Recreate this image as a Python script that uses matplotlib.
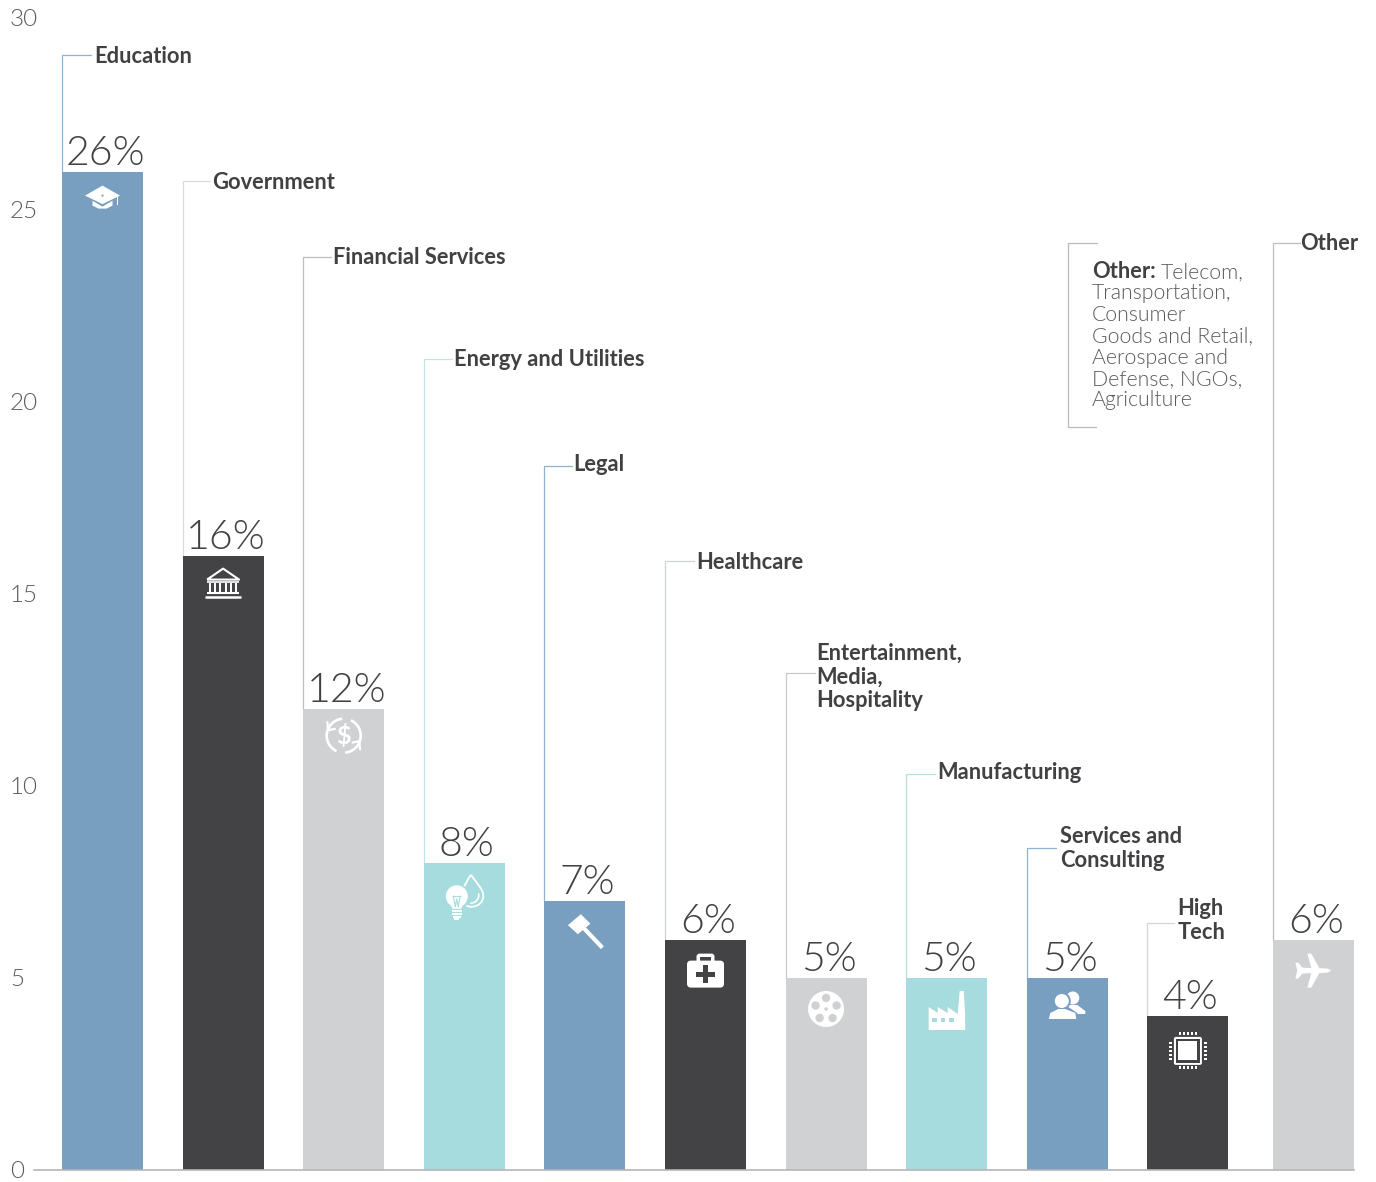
import matplotlib
matplotlib.use("Agg")
import matplotlib.pyplot as plt
from matplotlib.patches import Circle, Polygon, Rectangle, FancyBboxPatch, Arc, PathPatch
from matplotlib.path import Path
from matplotlib.transforms import Affine2D

W, H = 1376, 1182

categories = ["Education", "Government", "Financial Services", "Energy and Utilities", "Legal",
              "Healthcare", "Entertainment,\nMedia,\nHospitality", "Manufacturing",
              "Services and\nConsulting", "High\nTech", "Other"]
shares = [26, 16, 12, 8, 7, 6, 5, 5, 5, 4, 6]
slots = [0, 1, 2, 3, 4, 5, 6, 7, 8, 9, 10.04]
leader_tops = [29.04, 25.76, 23.78, 21.13, 18.33, 15.86, 12.94, 10.31, 8.39, 6.43, 24.14]
y_ticks = [0, 5, 10, 15, 20, 25, 30]
note_lines = ["Other:", "Transportation,", "Consumer", "Goods and Retail,",
              "Aerospace and", "Defense, NGOs,", "Agriculture"]

BLUE, DARK, GREY, TEAL = "#789ec0", "#434245", "#d0d1d3", "#a6dcde"
bar_colors = [BLUE, DARK, GREY, TEAL, BLUE, DARK, GREY, TEAL, BLUE, DARK, GREY]
line_colors = ["#8fb3d3", "#dcdcdc", "#bcbdbf", "#bfe4e6", "#8fb3d3", "#cfd2d6",
               "#c8c9cb", "#b5dfe2", "#8fb3d3", "#d6d6d6", "#bcbdbf"]
label_dx = [32, 30, 30, 30, 29, 31, 31, 31, 33, 30, 27]
leader_len = [29, 27, 28, 28, 28, 29, 29, 29, 29, 27, 27]
label_dy = [2, 2, 1, 1, -2, 2, 4, -2, 1, -2.5, 0]

TEXT = "#414042"
SOFT = "#58595b"
WHITE = "white"

plt.rcParams["font.family"] = ["Lato", "DejaVu Sans"]

fig = plt.figure(figsize=(W / 100, H / 100), dpi=100)
ax = fig.add_axes([34 / W, 1 - 1170 / H, 1320 / W, 1152 / H])

unit = 120.6
ax.set_xlim((34 - 102.5) / unit, (1354 - 102.5) / unit)
ax.set_ylim(0, 30)

bar_w = 81 / unit
ax.bar(slots, shares, width=bar_w, color=bar_colors, zorder=3)

for sp in ["top", "left", "right"]:
    ax.spines[sp].set_visible(False)
ax.spines["bottom"].set_color("#b5b5b7")
ax.spines["bottom"].set_linewidth(1.2)
ax.spines["bottom"].set_zorder(4)
ax.set_xticks([])
ax.set_yticks(y_ticks)
ax.tick_params(axis="y", length=0, pad=17.3, labelsize=17.5, labelcolor=SOFT)
for t in ax.get_yticklabels():
    t.set_horizontalalignment("left")
    t.set_fontweight(300)


# icons are drawn in pixels from the top centre of their bar, y pointing down
def add_shape(shape, tr, color, **kw):
    shape.set(transform=tr, facecolor=color, edgecolor="none", zorder=5, clip_on=False, **kw)
    ax.add_patch(shape)


def add_stroke(xs, ys, tr, color=WHITE, lw=1.4):
    ax.plot(xs, ys, transform=tr, color=color, lw=lw, zorder=5, clip_on=False,
            solid_capstyle="butt", scalex=False, scaley=False)


def icon_cap(tr, bg):
    add_shape(Polygon([(-10, 27), (-10, 34), (-4, 37), (4, 37), (10, 34), (10, 27)]), tr, WHITE)
    add_shape(Polygon([(-12, 28), (0, 35), (12, 28), (12, 24), (-12, 24)]), tr, bg)
    add_shape(Polygon([(0, 14), (17.5, 24), (0, 32.5), (-17.5, 24)]), tr, WHITE)
    add_shape(Rectangle((14.5, 25), 1.5, 8), tr, WHITE)
    add_shape(Circle((0, 24), 1.1), tr, bg)


def icon_bank(tr, bg):
    add_stroke([-16, 0, 16, -16], [24, 13, 24, 24], tr, lw=1.5)
    for cx in [-13, -8, -3, 3, 8, 13]:
        add_stroke([cx, cx], [27, 36], tr, lw=1.4)
    add_stroke([-16, 16], [26.5, 26.5], tr, lw=1.2)
    add_stroke([-16, 16], [37.5, 37.5], tr, lw=1.5)
    add_stroke([-18, 18], [41.5, 41.5], tr, lw=1.8)


def icon_money(tr, bg):
    c = (0, 26.5)
    ax.add_patch(Arc(c, 34, 34, theta1=115, theta2=265, transform=tr, color=WHITE, lw=1.9,
                     zorder=5, clip_on=False))
    ax.add_patch(Arc(c, 34, 34, theta1=-65, theta2=85, transform=tr, color=WHITE, lw=1.9,
                     zorder=5, clip_on=False))
    add_stroke([-16.5, -15.5, -8], [12, 21, 19.5], tr, lw=1.6)
    add_stroke([16.5, 15.5, 8], [41, 32, 33.5], tr, lw=1.6)
    ax.text(0, 27, "$", transform=tr, color=WHITE, fontsize=18, fontweight="bold",
            ha="center", va="center", zorder=5)


def icon_energy(tr, bg):
    drop = Path([(6.5, 12), (14, 22), (19, 27), (19, 33), (19, 40), (13, 44), (7, 44),
                 (2, 44), (-1, 41), (-3, 36), (-3, 30), (0, 22), (6.5, 12)],
                [Path.MOVETO] + [Path.CURVE4] * 12)
    ax.add_patch(PathPatch(drop, transform=tr, facecolor="none", edgecolor=WHITE, lw=1.3,
                           zorder=5, clip_on=False))
    ax.add_patch(Arc((6, 32), 17, 17, theta1=350, theta2=90, transform=tr, color=WHITE, lw=1.2,
                     zorder=5, clip_on=False))
    add_shape(Circle((-7.5, 34), 13), tr, bg)
    add_shape(Circle((-7.5, 33.5), 11), tr, WHITE)
    add_shape(Polygon([(-14, 40), (-1, 40), (-3, 46), (-12, 46)]), tr, WHITE)
    add_stroke([-11, -9, -7.5, -6, -4], [33, 44, 36, 44, 33], tr, color=bg, lw=0.8)
    add_stroke([-12, -3], [33, 33], tr, color=bg, lw=0.8)
    for ly, half in [(48, 5), (51, 5), (54, 4), (56, 2.5)]:
        add_stroke([-7.5 - half, -7.5 + half], [ly, ly], tr, lw=1.5)


def icon_gavel(tr, bg):
    add_shape(Polygon([(-4, 13), (5.5, 22.5), (-7, 33), (-17, 24)]), tr, WHITE)
    add_stroke([-3, 17.5], [25, 46.5], tr, lw=3)


def icon_medkit(tr, bg):
    add_shape(FancyBboxPatch((-9, 14), 18, 12, boxstyle="round,pad=0,rounding_size=3"), tr, WHITE)
    add_shape(Rectangle((-5.5, 17), 11, 5), tr, bg)
    add_shape(FancyBboxPatch((-18.5, 21), 37, 27, boxstyle="round,pad=0,rounding_size=4"), tr, WHITE)
    add_shape(Rectangle((-9.5, 32.5), 19, 4.5), tr, bg)
    add_shape(Rectangle((-2.5, 25.5), 5, 18), tr, bg)


def icon_reel(tr, bg):
    add_shape(Circle((0, 31), 18), tr, WHITE)
    for hx, hy in [(0, 20), (-10.5, 27.5), (10.5, 27.5), (-6.5, 40), (6.5, 40)]:
        add_shape(Circle((hx, hy), 4.2), tr, bg)
    add_shape(Circle((0, 31), 1.8), tr, bg)


def icon_factory(tr, bg):
    add_shape(Polygon([(-18, 52), (-18, 29), (-9, 35), (-9, 29), (1, 35), (1, 29), (11, 36),
                       (13, 13), (17, 13), (18.5, 36), (18.5, 52)]), tr, WHITE)
    for wx in [-14.5, -6, 2.5]:
        add_shape(Rectangle((wx, 40), 4.5, 3.5), tr, bg)


def icon_people(tr, bg):
    add_shape(Circle((5.5, 20), 6.5), tr, WHITE)
    add_shape(Polygon([(0, 27), (10, 27), (18, 33), (18, 36), (0, 36)]), tr, WHITE)
    add_shape(Circle((-5.5, 23), 9), tr, bg)
    add_shape(Polygon([(-19, 41), (-18, 34), (-9, 29), (1, 29), (10, 35), (10.5, 41)]), tr, bg)
    add_shape(Circle((-5.5, 23), 7), tr, WHITE)
    add_shape(Polygon([(-18.5, 41), (-17, 35), (-9, 31), (-2, 31), (8, 35), (9, 41)]), tr, WHITE)


def icon_chip(tr, bg):
    cy = 34.5
    add_shape(FancyBboxPatch((-14, cy - 14), 28, 28, boxstyle="round,pad=0,rounding_size=2"), tr, WHITE)
    add_shape(Rectangle((-12, cy - 12), 24, 24), tr, bg)
    add_shape(Rectangle((-9.5, cy - 9.5), 19, 19), tr, WHITE)
    for p in [-8, -4, 0, 4, 8]:
        add_shape(Rectangle((p - 1, cy - 18.5), 2, 3), tr, WHITE)
        add_shape(Rectangle((p - 1, cy + 15.5), 2, 3), tr, WHITE)
        add_shape(Rectangle((-19, cy + p - 1), 3, 2), tr, WHITE)
        add_shape(Rectangle((16, cy + p - 1), 3, 2), tr, WHITE)


def icon_plane(tr, bg):
    add_shape(Polygon([(18, 31), (14, 29), (6, 28.5), (-2, 14), (-6, 14), (-2, 28.5), (-11, 28),
                       (-15, 23), (-18, 23), (-16, 31), (-18, 39), (-15, 39), (-11, 34),
                       (-2, 33.5), (-6, 48), (-2, 48), (6, 33.5), (14, 33)]), tr, WHITE)


icons = [icon_cap, icon_bank, icon_money, icon_energy, icon_gavel, icon_medkit,
         icon_reel, icon_factory, icon_people, icon_chip, icon_plane]

for i, v in enumerate(shares):
    left = slots[i] - bar_w / 2
    top = leader_tops[i]
    lc = line_colors[i]
    ax.plot([left, left, left + leader_len[i] / unit], [v, top, top], color=lc, lw=0.9,
            zorder=2, clip_on=False, solid_joinstyle="miter")
    ax.annotate(categories[i], (left, top), xytext=(label_dx[i], -label_dy[i]),
                textcoords="offset pixels", ha="left", va="center", color=TEXT,
                fontsize=15.75, fontweight="bold", linespacing=1.17)
    ax.annotate(f"{v}%", (slots[i], v), xytext=(2.5, 7), textcoords="offset pixels",
                ha="center", va="baseline", color=TEXT, fontsize=29.5, fontweight=300)
    bx, by = ax.transData.transform((slots[i], v))
    icons[i](Affine2D().scale(1, -1).translate(bx, by), bar_colors[i])


# note about what falls under "Other", pinned to figure pixels
def px(x, y):
    return x / W, 1 - y / H


bx0, by0 = px(1068, 243)
bx1, by1 = px(1096, 427)
bx2, _ = px(1097, 243)
fig.add_artist(plt.Line2D([bx2, bx0, bx0, bx1], [by0, by0, by1, by1], color="#b9babc", lw=0.9))
for n, line in enumerate(note_lines):
    x, y = px(1092, 278 + 21.4 * n)
    first = n == 0
    fig.text(x, y, line, color=TEXT if first else SOFT, fontsize=15.75 if first else 15.3,
             fontweight="bold" if first else 300, va="baseline")
x, y = px(1161, 278)
fig.text(x, y, "Telecom,", color=SOFT, fontsize=15.3, fontweight=300, va="baseline")

fig.savefig("out.png", dpi=100, facecolor="white")
